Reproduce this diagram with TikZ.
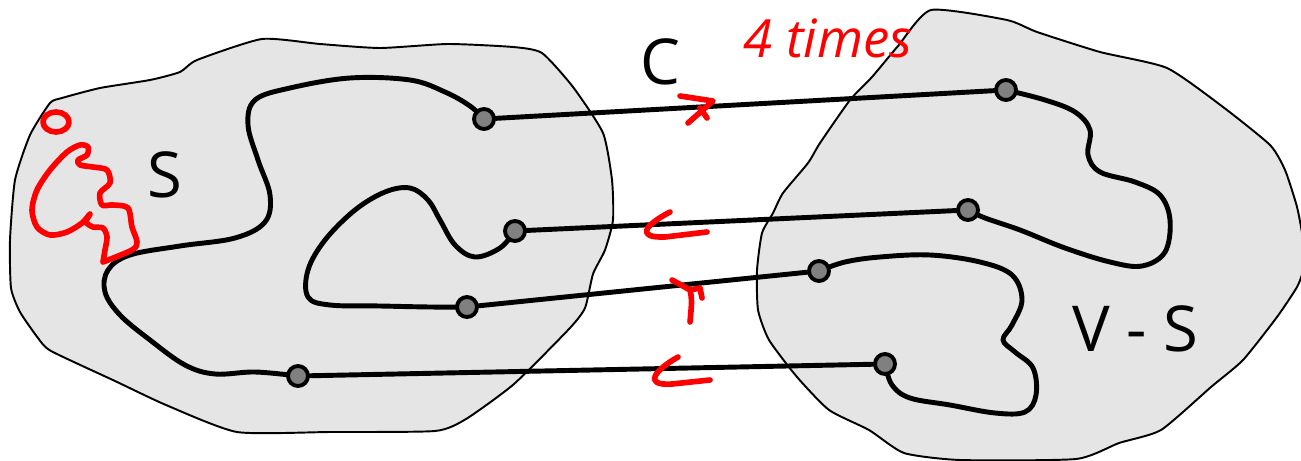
\documentclass[tikz,border=0pt]{standalone}
\usepackage{fontspec}
\setmainfont{Open Sans}
\usetikzlibrary{backgrounds}

\tikzset{
  region/.style={fill=black!10, draw=black, line width=0.55pt},
  wire/.style={line width=1.4pt, line cap=round, line join=round},
  dot/.style={circle, draw=black, fill=black!50, line width=1.1pt, inner sep=0pt, minimum size=2mm},
  redmark/.style={draw=red, line width=1.6pt, line cap=round, line join=round},
  lbl/.style={font=\fontsize{18}{21}\selectfont}
}

\begin{document}
\begin{tikzpicture}[x=0.01cm, y=-0.01cm]
  \useasboundingbox (0,0) rectangle (1301,461);

  % end points of the cut edges
  \node[dot] (a1) at (484,119) {};
  \node[dot] (a2) at (515,231) {};
  \node[dot] (a3) at (467,307) {};
  \node[dot] (a4) at (298,376) {};
  \node[dot] (b1) at (1006,90) {};
  \node[dot] (b2) at (968,210) {};
  \node[dot] (b3) at (819,271) {};
  \node[dot] (b4) at (885,364) {};

  \begin{scope}[on background layer]
    % the two sides
    \draw[region] plot[smooth cycle, tension=0.35] coordinates {
      (50,103) (62,98) (100,88) (150,80) (180,72) (197,60) (262,39) (320,44)
      (380,48) (448,44) (513,47) (542,53) (573,87) (603,133) (612,180)
      (613,220) (605,250) (593,274) (585,308) (569,329) (514,384) (466,419)
      (435,431) (330,432) (237,432) (166,405) (115,381) (51,351) (38,338)
      (20,312) (11,288) (10,240) (15,180) (30,135)};
    \draw[region] plot[smooth cycle, tension=0.35] coordinates {
      (931,10) (1007,20) (1037,32) (1100,52) (1167,68) (1223,107) (1270,145)
      (1285,170) (1297,207) (1303,240) (1303,270) (1297,287) (1277,317)
      (1243,360) (1211,387) (1161,430) (1119,443) (1076,459) (960,460)
      (904,453) (869,430) (829,410) (797,377) (769,340) (758,310) (757,270)
      (762,233) (773,213) (783,193) (808,163) (820,143) (850,100) (872,77)
      (898,46)};
    % paths inside S
    \draw[wire] plot[smooth, tension=0.6] coordinates {
      (a1.center) (470,106) (445,92) (410,80) (350,78) (290,88) (255,100)
      (248,125) (258,160) (270,195) (265,222) (235,238) (180,246) (130,255)
      (108,270) (105,292) (120,315) (150,340) (185,365) (215,374) (255,372)
      (a4.center)};
    \draw[wire] plot[smooth, tension=0.6] coordinates {
      (a2.center) (500,248) (475,257) (455,245) (440,220) (428,200) (410,188)
      (385,192) (355,210) (325,240) (308,270) (308,297) (330,305) (380,306)
      (430,307) (a3.center)};
    % paths inside V - S
    \draw[wire] plot[smooth, tension=0.6] coordinates {
      (b1.center) (1045,100) (1075,112) (1090,130) (1088,155) (1100,172)
      (1135,182) (1160,195) (1170,220) (1165,252) (1142,266) (1110,262)
      (1065,248) (1020,230) (985,218) (b2.center)};
    \draw[wire] plot[smooth, tension=0.6] coordinates {
      (b3.center) (845,262) (880,257) (930,255) (980,262) (1012,275)
      (1022,300) (1012,325) (1003,340) (1015,352) (1033,368) (1036,395)
      (1025,412) (995,413) (950,405) (910,398) (892,385) (b4.center)};
  \end{scope}

  % edges of the cut
  \draw[wire] (a1) -- (b1);
  \draw[wire] (a2) -- (b2);
  \draw[wire] (a3) -- (b3);
  \draw[wire] (a4) -- (b4);

  \node[lbl] (sLbl) at (165,175) {S};
  \node[lbl] (cLbl) at (660,62) {C};
  \node[lbl] (vsLbl) at (1135,329) {V - S};
  \node[text=red, font=\fontsize{15}{18}\itshape] (tLbl) at (828,38) {4 times};

  % crossing directions
  \draw[redmark] (680,96) -- (713,101) -- (688,123);
  \draw[redmark] (700,108) -- (707,118);
  \draw[redmark] (670,212) .. controls (645,225) and (635,238) .. (665,237) -- (707,232);
  \draw[redmark] (672,280) -- (690,290) .. controls (692,300) .. (690,322);
  \draw[redmark] (690,290) -- (700,288) -- (702,298);
  \draw[redmark] (678,357) .. controls (655,370) and (642,386) .. (672,384) -- (710,380);

  % start vertex and scribble
  \draw[redmark] (56,122) ellipse (13 and 10);
  \draw[redmark] plot[smooth, tension=0.5] coordinates {
    (103,262) (132,250) (137,242) (132,227) (128,208) (113,205) (102,205)
    (100,193) (110,183) (107,170) (93,167) (80,165) (78,160) (87,155)
    (88,147) (80,145) (67,152) (50,170) (37,190) (32,210) (37,227) (50,235)
    (67,232) (82,223) (90,214) (86,222) (93,227) (103,228) (107,237)
    (105,250) (103,262)};
\end{tikzpicture}
\end{document}
